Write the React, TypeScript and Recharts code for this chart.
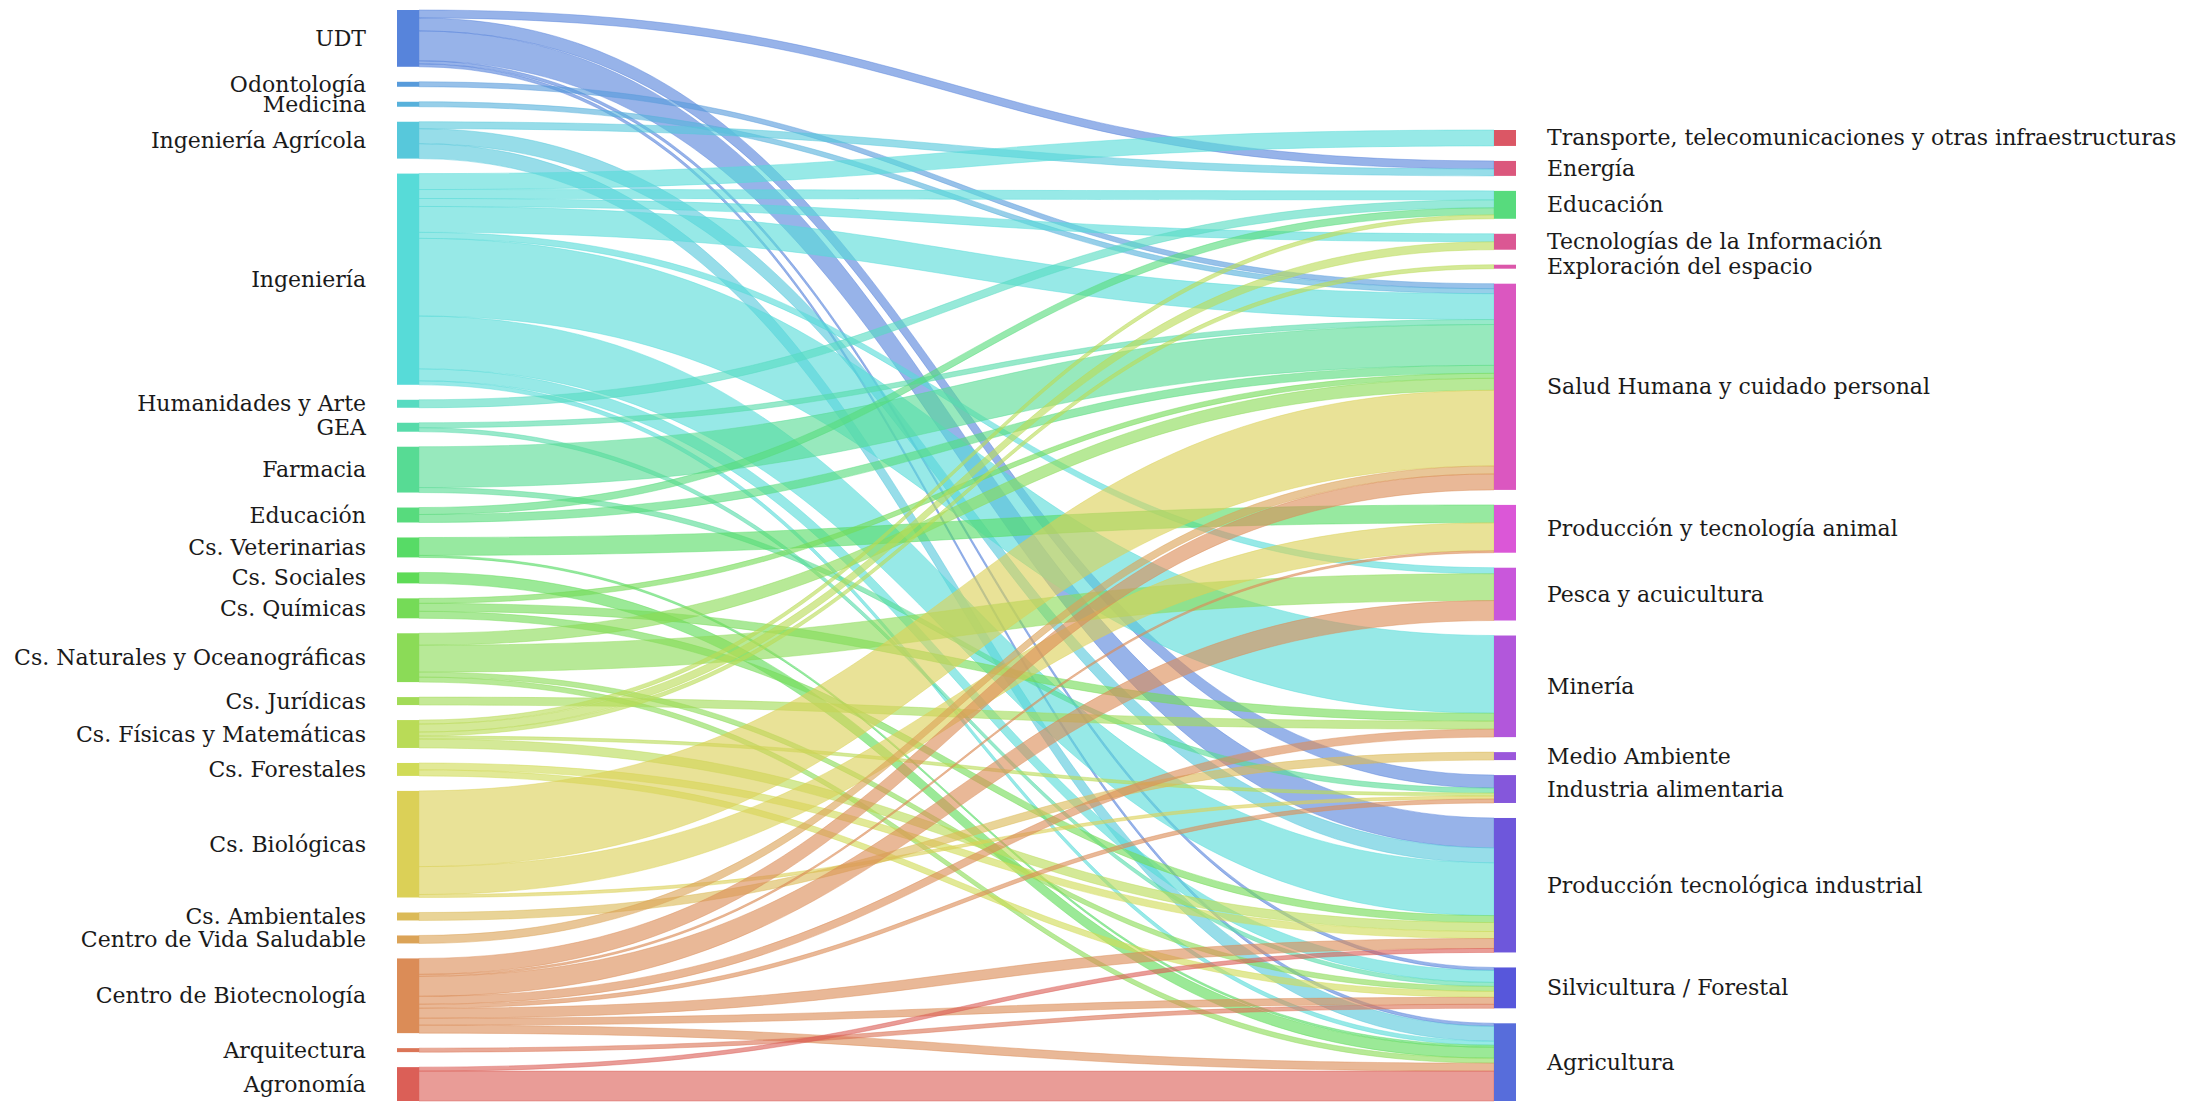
import React from 'react';
import { Sankey, Layer } from 'recharts';

// Left column (faculties / centres), top to bottom
const sourceLabels = [
  'UDT', 'Odontología', 'Medicina', 'Ingeniería Agrícola', 'Ingeniería',
  'Humanidades y Arte', 'GEA', 'Farmacia', 'Educación', 'Cs. Veterinarias',
  'Cs. Sociales', 'Cs. Químicas', 'Cs. Naturales y Oceanográficas', 'Cs. Jurídicas',
  'Cs. Físicas y Matemáticas', 'Cs. Forestales', 'Cs. Biológicas', 'Cs. Ambientales',
  'Centro de Vida Saludable', 'Centro de Biotecnología', 'Arquitectura', 'Agronomía',
];

// Right column (sectors), top to bottom
const targetLabels = [
  'Transporte, telecomunicaciones y otras infraestructuras', 'Energía', 'Educación',
  'Tecnologías de la Información', 'Exploración del espacio', 'Salud Humana y cuidado personal',
  'Producción y tecnología animal', 'Pesca y acuicultura', 'Minería', 'Medio Ambiente',
  'Industria alimentaria', 'Producción tecnológica industrial', 'Silvicultura / Forestal', 'Agricultura',
];

// Order in which the hls palette hues were handed out
const paletteOrder = [
  'Agronomía', 'Arquitectura', 'Centro de Biotecnología', 'Centro de Vida Saludable', 'Cs. Ambientales',
  'Cs. Biológicas', 'Cs. Forestales', 'Cs. Físicas y Matemáticas', 'Cs. Jurídicas',
  'Cs. Naturales y Oceanográficas', 'Cs. Químicas', 'Cs. Sociales', 'Cs. Veterinarias', 'Educación',
  'Farmacia', 'GEA', 'Humanidades y Arte', 'Ingeniería', 'Ingeniería Agrícola', 'Medicina',
  'Odontología', 'UDT', 'Agricultura', 'Silvicultura / Forestal', 'Producción tecnológica industrial',
  'Industria alimentaria', 'Medio Ambiente', 'Minería', 'Pesca y acuicultura',
  'Producción y tecnología animal', 'Salud Humana y cuidado personal', 'Exploración del espacio',
  'Tecnologías de la Información', 'Energía', 'Transporte, telecomunicaciones y otras infraestructuras',
];

// Flows: source -> target with value
const flowFrom = [
  'UDT', 'UDT', 'UDT', 'UDT', 'UDT',
  'Odontología', 'Medicina',
  'Ingeniería Agrícola', 'Ingeniería Agrícola', 'Ingeniería Agrícola',
  'Ingeniería', 'Ingeniería', 'Ingeniería', 'Ingeniería', 'Ingeniería', 'Ingeniería', 'Ingeniería', 'Ingeniería', 'Ingeniería',
  'Humanidades y Arte',
  'GEA', 'GEA',
  'Farmacia', 'Farmacia',
  'Educación', 'Educación',
  'Cs. Veterinarias', 'Cs. Veterinarias',
  'Cs. Sociales',
  'Cs. Químicas', 'Cs. Químicas', 'Cs. Químicas',
  'Cs. Naturales y Oceanográficas', 'Cs. Naturales y Oceanográficas', 'Cs. Naturales y Oceanográficas', 'Cs. Naturales y Oceanográficas',
  'Cs. Jurídicas',
  'Cs. Físicas y Matemáticas', 'Cs. Físicas y Matemáticas', 'Cs. Físicas y Matemáticas', 'Cs. Físicas y Matemáticas', 'Cs. Físicas y Matemáticas',
  'Cs. Forestales', 'Cs. Forestales',
  'Cs. Biológicas', 'Cs. Biológicas', 'Cs. Biológicas',
  'Cs. Ambientales',
  'Centro de Vida Saludable',
  'Centro de Biotecnología', 'Centro de Biotecnología', 'Centro de Biotecnología', 'Centro de Biotecnología',
  'Centro de Biotecnología', 'Centro de Biotecnología', 'Centro de Biotecnología', 'Centro de Biotecnología',
  'Arquitectura',
  'Agronomía', 'Agronomía',
];

const flowTo = [
  'Energía', 'Industria alimentaria', 'Producción tecnológica industrial', 'Silvicultura / Forestal', 'Agricultura',
  'Salud Humana y cuidado personal', 'Salud Humana y cuidado personal',
  'Energía', 'Producción tecnológica industrial', 'Agricultura',
  'Transporte, telecomunicaciones y otras infraestructuras', 'Educación', 'Tecnologías de la Información',
  'Salud Humana y cuidado personal', 'Pesca y acuicultura', 'Minería', 'Producción tecnológica industrial',
  'Silvicultura / Forestal', 'Agricultura',
  'Educación',
  'Salud Humana y cuidado personal', 'Silvicultura / Forestal',
  'Salud Humana y cuidado personal', 'Industria alimentaria',
  'Educación', 'Salud Humana y cuidado personal',
  'Producción y tecnología animal', 'Agricultura',
  'Agricultura',
  'Salud Humana y cuidado personal', 'Minería', 'Producción tecnológica industrial',
  'Salud Humana y cuidado personal', 'Pesca y acuicultura', 'Silvicultura / Forestal', 'Agricultura',
  'Minería',
  'Educación', 'Tecnologías de la Información', 'Exploración del espacio', 'Industria alimentaria', 'Producción tecnológica industrial',
  'Producción tecnológica industrial', 'Silvicultura / Forestal',
  'Salud Humana y cuidado personal', 'Producción y tecnología animal', 'Industria alimentaria',
  'Medio Ambiente',
  'Salud Humana y cuidado personal',
  'Salud Humana y cuidado personal', 'Producción y tecnología animal', 'Pesca y acuicultura', 'Minería',
  'Industria alimentaria', 'Producción tecnológica industrial', 'Silvicultura / Forestal', 'Agricultura',
  'Silvicultura / Forestal',
  'Producción tecnológica industrial', 'Agricultura',
];

const flowValue = [
  8, 13, 30, 3, 3,
  5, 5,
  7, 15, 15,
  16, 9, 8, 26, 6, 78, 53, 12, 4,
  8,
  5, 4,
  41, 5,
  7, 8,
  18, 2,
  11,
  5, 8, 7,
  12, 27, 5, 5,
  8,
  4, 8, 4, 3, 9,
  7, 6,
  76, 28, 3,
  8,
  8,
  16, 2, 20, 8, 4, 10, 7, 8,
  4,
  4, 30,
];

const hueOf = (name: string) => 3.6 + (paletteOrder.indexOf(name) * 360) / paletteOrder.length;
const colorOf = (name: string) => `hsl(${hueOf(name).toFixed(2)}, 65%, 60%)`;

const nodes = [
  ...sourceLabels.map((name) => ({ name, side: 'left', color: colorOf(name) })),
  ...targetLabels.map((name) => ({ name, side: 'right', color: colorOf(name) })),
];

const links = flowFrom.map((from, i) => ({
  source: sourceLabels.indexOf(from),
  target: sourceLabels.length + targetLabels.indexOf(flowTo[i]),
  value: flowValue[i],
  color: colorOf(from),
}));

const data = { nodes, links };

const FONT = '"DejaVu Serif", serif';

function NodeShape(props: any) {
  const { x, y, width, height, payload } = props;
  const isLeft = payload.side === 'left';
  return (
    <Layer>
      <rect x={x} y={y} width={width} height={Math.max(height, 1)} fill={payload.color} />
      <text
        x={isLeft ? x - 31 : x + width + 31}
        y={y + height / 2}
        textAnchor={isLeft ? 'end' : 'start'}
        dominantBaseline="central"
        fontFamily={FONT}
        fontSize={22}
        fill="#1a1a1a"
      >
        {payload.name}
      </text>
    </Layer>
  );
}

function LinkShape(props: any) {
  const { sourceX, targetX, sourceY, targetY, sourceControlX, targetControlX, linkWidth, payload } = props;
  const h = linkWidth / 2;
  const d =
    `M${sourceX},${sourceY - h} C${sourceControlX},${sourceY - h} ${targetControlX},${targetY - h} ${targetX},${targetY - h} ` +
    `L${targetX},${targetY + h} C${targetControlX},${targetY + h} ${sourceControlX},${sourceY + h} ${sourceX},${sourceY + h} Z`;
  const c = payload.color;
  return <path d={d} fill={c} fillOpacity={0.62} stroke={c} strokeOpacity={0.55} strokeWidth={0.8} />;
}

export default function App() {
  return (
    <div style={{ width: 2172, height: 1100, background: '#fff' }}>
      <Sankey
        width={2172}
        height={1100}
        data={data}
        node={<NodeShape />}
        link={<LinkShape />}
        nodeWidth={22}
        nodePadding={15}
        iterations={32}
        sort={false}
        linkCurvature={0.5}
        margin={{ top: 2, right: 664, bottom: 7, left: 389 }}
      />
    </div>
  );
}
